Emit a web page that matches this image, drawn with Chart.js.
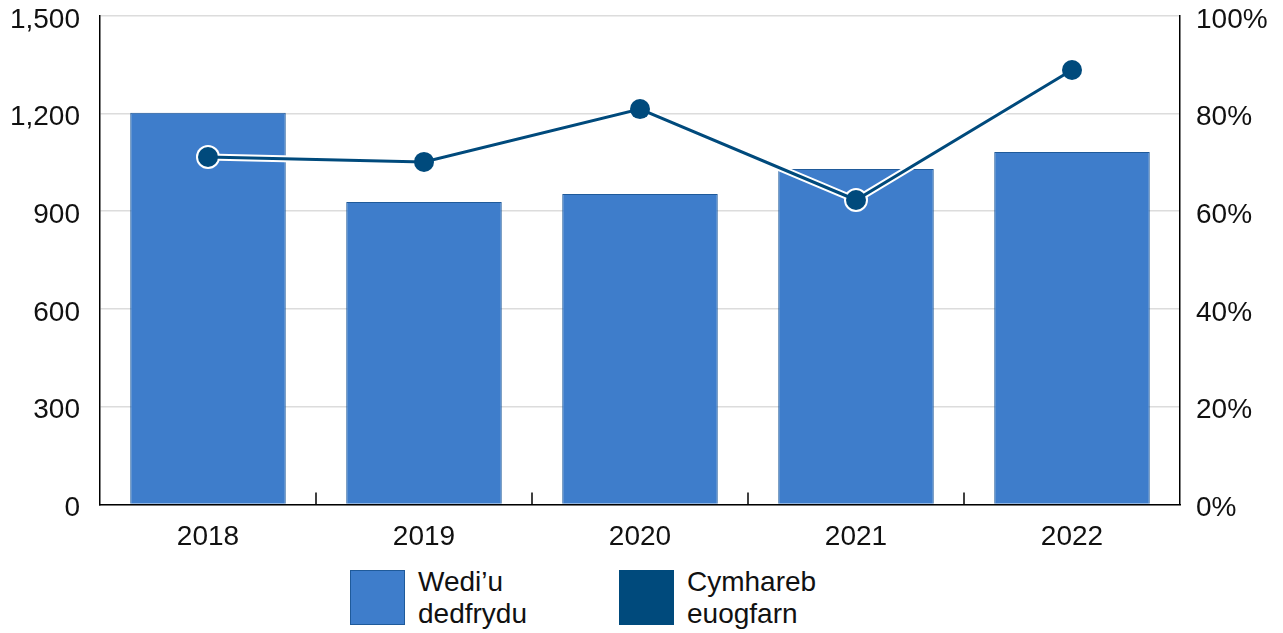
<!DOCTYPE html>
<html>
<head>
<meta charset="utf-8">
<script src="https://cdn.jsdelivr.net/npm/chart.js@4/dist/chart.umd.min.js"></script>
<style>
  body { margin: 0; background: #fff; font-family: "Liberation Sans", Arial, sans-serif; overflow: hidden; }
  .wrap { position: relative; width: 1283px; height: 583px; margin-top: -21px; }
  .legend { position: relative; height: 71px; }
  .item { position: absolute; top: 8px; display: flex; align-items: flex-start; }
  .box { width: 55px; height: 55px; margin-right: 13px; box-sizing: border-box; }
  .txt { font-size: 28px; line-height: 32px; color: #111; margin-top: -4px; }
</style>
</head>
<body>
<div class="wrap"><canvas id="c"></canvas></div>
<div class="legend">
  <div class="item" style="left:350px"><div class="box" style="background:#3e7dcb;border:1px solid #1f5a9a"></div><div class="txt">Wedi’u<br>dedfrydu</div></div>
  <div class="item" style="left:619px"><div class="box" style="background:#004a7c"></div><div class="txt">Cymhareb<br>euogfarn</div></div>
</div>
<script>
const YEARS = ["2018", "2019", "2020", "2021", "2022"];
const SENTENCED = [1202, 928, 953, 1030, 1082];
const CONVICTION_RATE = [71.1, 70.1, 80.9, 62.3, 88.9];

const BAR_COLOR = "#3e7dcb";
const LINE_COLOR = "#004a7c";
const FONT = { family: "Liberation Sans", size: 28 };

// little upward ticks on the x axis between the categories
const boundaryTicks = {
  id: "boundaryTicks",
  afterDraw(chart) {
    const x = chart.scales.x;
    const ctx = chart.ctx;
    const bottom = chart.chartArea.bottom;
    ctx.save();
    ctx.strokeStyle = "#000";
    ctx.lineWidth = 1.5;
    for (let i = 0; i < YEARS.length - 1; i++) {
      const px = (x.getPixelForValue(i) + x.getPixelForValue(i + 1)) / 2;
      ctx.beginPath();
      ctx.moveTo(px, bottom);
      ctx.lineTo(px, bottom - 12);
      ctx.stroke();
    }
    ctx.restore();
  },
};

new Chart(document.getElementById("c"), {
  data: {
    labels: YEARS,
    datasets: [
      {
        type: "line",
        label: "Cymhareb euogfarn",
        data: CONVICTION_RATE,
        yAxisID: "y2",
        borderColor: LINE_COLOR,
        borderWidth: 3,
        pointRadius: 10,
        pointBackgroundColor: LINE_COLOR,
        pointBorderWidth: 0,
        order: 1,
      },
      {
        type: "line",
        label: "halo",
        data: CONVICTION_RATE,
        yAxisID: "y2",
        borderColor: "#fff",
        borderWidth: 7,
        pointRadius: 12,
        pointBackgroundColor: "#fff",
        pointBorderWidth: 0,
        order: 2,
      },
      {
        type: "bar",
        label: "Wedi’u dedfrydu",
        data: SENTENCED,
        yAxisID: "y",
        backgroundColor: BAR_COLOR,
        borderColor: "#1f5a9a",
        borderWidth: 1,
        barPercentage: 0.72,
        categoryPercentage: 1,
        order: 3,
      },
    ],
  },
  options: {
    responsive: true,
    maintainAspectRatio: false,
    animation: false,
    plugins: { legend: { display: false }, tooltip: { enabled: false } },
    scales: {
      x: {
        grid: { display: false },
        border: { color: "#000", width: 1.5 },
        ticks: { color: "#111", font: FONT, padding: 8 },
      },
      y: {
        position: "left",
        min: 0,
        max: 1500,
        afterFit: (s) => { s.width = 100; },
        ticks: { stepSize: 300, color: "#111", font: FONT, padding: 20, labelOffset: 4 },
        grid: { color: "#dcdcdc", lineWidth: 1.5, drawTicks: false },
        border: { color: "#000", width: 1.5 },
      },
      y2: {
        position: "right",
        min: 0,
        max: 100,
        afterFit: (s) => { s.width = 103; },
        ticks: { stepSize: 20, color: "#111", font: FONT, padding: 16, labelOffset: 4, callback: (v) => v + "%" },
        grid: { display: false, drawTicks: false },
        border: { color: "#000", width: 1.5 },
      },
    },
  },
  plugins: [boundaryTicks],
});
</script>
</body>
</html>
